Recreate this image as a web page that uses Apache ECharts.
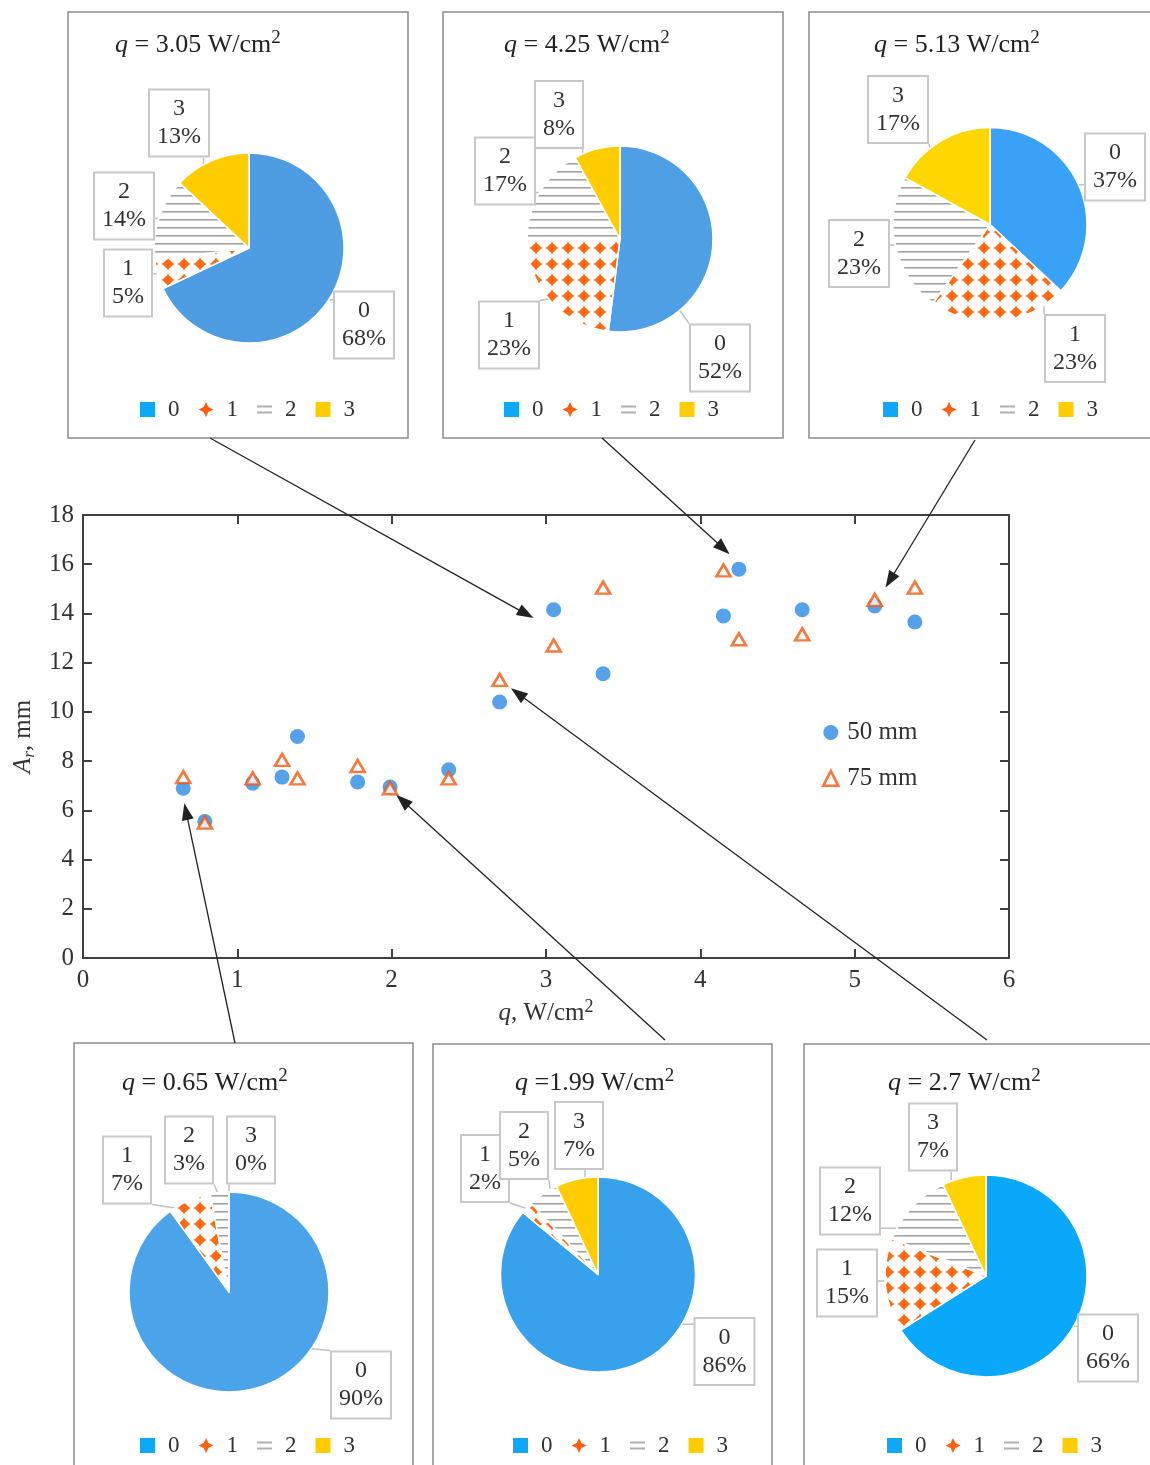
<!DOCTYPE html>
<html>
<head>
<meta charset="utf-8">
<script src="https://cdn.jsdelivr.net/npm/echarts@6/dist/echarts.min.js"></script>
<style>
  html, body { margin: 0; padding: 0; background: #fff; }
  #main { width: 1150px; height: 1465px; }
</style>
</head>
<body>
<div id="main"></div>
<script>
// main plot: q, W/cm2 -> A_r, mm
var q50  = [0.65, 0.79, 1.10, 1.29, 1.39, 1.78, 1.99, 2.37, 2.70, 3.05, 3.37, 4.15, 4.25, 4.66, 5.13, 5.39];
var ar50 = [6.9, 5.55, 7.1, 7.35, 9.0, 7.15, 6.95, 7.65, 10.4, 14.15, 11.55, 13.9, 15.8, 14.15, 14.3, 13.65];
var q75  = [0.65, 0.79, 1.10, 1.29, 1.39, 1.78, 1.99, 2.37, 2.70, 3.05, 3.37, 4.15, 4.25, 4.66, 5.13, 5.39];
var ar75 = [7.35, 5.5, 7.3, 8.05, 7.3, 7.8, 6.9, 7.3, 11.3, 12.7, 15.05, 15.75, 12.95, 13.15, 14.55, 15.05];
var xTicks = [0, 1, 2, 3, 4, 5, 6];
var yTicks = [0, 2, 4, 6, 8, 10, 12, 14, 16, 18];

// pies (share of regimes 0..3, %)
var pieNames = ['0', '1', '2', '3'];
var pieQ = [' = 3.05', ' = 4.25', ' = 5.13', ' = 0.65', ' =1.99', ' = 2.7'];
var pie305 = [68, 5, 14, 13];
var pie425 = [52, 23, 17, 8];
var pie513 = [37, 23, 23, 17];
var pie065 = [90, 7, 3, 0];
var pie199 = [86, 2, 5, 7];
var pie270 = [66, 15, 12, 7];
var pieValues = [pie305, pie425, pie513, pie065, pie199, pie270];

// annotation arrows: start on panel edge (px), tip in data coords
var arrowFrom = [[210, 438], [602, 438], [975, 440], [235, 1043], [665, 1040], [987, 1040]];
var arrowTo = [[2.92, 13.81], [4.19, 16.41], [5.20, 15.05], [0.657, 6.29], [2.03, 6.63], [2.773, 10.96]];

var FONT = 'Liberation Serif';

// layout of the six inset panels
var panels = [
  {box: [68, 12, 340, 426], c: [249, 248], r: 95, blue: '#4e9de3', yel: '#ffcc00', tl: [115, 29], lg: [140, 397.5],
   lab: [[115, 77], [-121, 35], [-125, -42], [-70, -125]]},
  {box: [443, 12, 340, 426], c: [620, 239], r: 93, blue: '#4f9fe5', yel: '#ffcc00', tl: [504, 29], lg: [504, 397.5],
   lab: [[100, 119], [-111, 96], [-115, -68], [-61, -124.5]]},
  {box: [809, 12, 350, 426], c: [990, 224.5], r: 97, blue: '#39a1f6', yel: '#ffd700', tl: [874, 29], lg: [883, 397.5],
   lab: [[125, -57.5], [85, 124], [-131, 29], [-92, -115]]},
  {box: [74, 1043, 339, 430], c: [229, 1292], r: 100, blue: '#4ba4e9', yel: '#ffcc00', tl: [122, 1067], lg: [140, 1433.5],
   lab: [[132, 93], [-102, -122], [-40, -142], [22, -142]]},
  {box: [433, 1044, 339, 430], c: [598, 1274.5], r: 97.5, blue: '#37a1eb', yel: '#ffcc00', tl: [515, 1067], lg: [513, 1433.5],
   lab: [[126.5, 77], [-113, -106], [-74, -129], [-19, -139]]},
  {box: [804, 1044, 350, 430], c: [986, 1276], r: 101, blue: '#0aa8fb', yel: '#ffd300', tl: [888, 1067], lg: [887, 1433.5],
   lab: [[122, 72], [-139, 7], [-136, -75], [-53, -139]]}
];

//填充图案
function dotPattern() {
  var c = document.createElement('canvas');
  c.width = 16; c.height = 16;
  var g = c.getContext('2d');
  g.fillStyle = '#fff'; g.fillRect(0, 0, 16, 16);
  g.fillStyle = '#ff6a12';
  g.beginPath();
  g.moveTo(8, 1.5); g.lineTo(10.5, 5.5); g.lineTo(14.5, 8); g.lineTo(10.5, 10.5);
  g.lineTo(8, 14.5); g.lineTo(5.5, 10.5); g.lineTo(1.5, 8); g.lineTo(5.5, 5.5);
  g.closePath(); g.fill();
  g.beginPath(); g.arc(8, 8, 4, 0, Math.PI * 2); g.fill();
  return c;
}
function linePattern() {
  var c = document.createElement('canvas');
  c.width = 8; c.height = 8;
  var g = c.getContext('2d');
  g.fillStyle = '#fff'; g.fillRect(0, 0, 8, 8);
  g.fillStyle = '#a2a2a2'; g.fillRect(0, 3, 8, 1.6);
  return c;
}
var dots = {image: dotPattern(), repeat: 'repeat'};
var hlines = {image: linePattern(), repeat: 'repeat'};

// callout: box at fixed offset, pointer to the arc point facing the box
function makeLabelLayout(p, vals) {
  var total = vals.reduce(function (a, b) { return a + b; }, 0);
  return function (params) {
    var i = params.dataIndex;
    var before = 0;
    for (var k = 0; k < i; k++) before += vals[k];
    var a0 = before / total * Math.PI * 2, a1 = (before + vals[i]) / total * Math.PI * 2;
    var x = p.c[0] + p.lab[i][0], y = p.c[1] + p.lab[i][1];
    var ang = Math.atan2(p.lab[i][0], -p.lab[i][1]);
    if (ang < 0) ang += Math.PI * 2;
    var m = Math.min(0.08, (a1 - a0) / 2);
    if (ang < a0 + m || ang > a1 - m) {
      // take nearest end of the slice (with wrap-around)
      var d0 = Math.abs(ang - (a0 + m)), d1 = Math.abs(ang - (a1 - m));
      d0 = Math.min(d0, Math.PI * 2 - d0); d1 = Math.min(d1, Math.PI * 2 - d1);
      ang = d0 < d1 ? a0 + m : a1 - m;
    }
    var ex = p.c[0] + Math.sin(ang) * p.r * 0.98, ey = p.c[1] - Math.cos(ang) * p.r * 0.98;
    var w = params.labelRect.width, h = params.labelRect.height;
    var bx = Math.min(Math.max(ex, x - w / 2), x + w / 2);
    var by = Math.min(Math.max(ey, y - h / 2), y + h / 2);
    return {
      x: x, y: y, align: 'center', verticalAlign: 'middle',
      labelLinePoints: [[ex, ey], [(ex + bx) / 2, (ey + by) / 2], [bx, by]]
    };
  };
}

var chart = echarts.init(document.getElementById('main'));

var series = [
  {
    type: 'scatter', name: '50 mm', xAxisIndex: 0, yAxisIndex: 0,
    data: q50.map(function (x, i) { return [x, ar50[i]]; }),
    symbol: 'circle', symbolSize: 15, silent: true,
    itemStyle: {color: '#2a89e5'}
  },
  {
    type: 'scatter', name: '75 mm', xAxisIndex: 0, yAxisIndex: 0,
    data: q75.map(function (x, i) { return [x, ar75[i]]; }),
    symbol: 'triangle', symbolSize: [14, 12], silent: true,
    itemStyle: {color: '#fff', borderColor: '#f4580c', borderWidth: 2.6}
  }
];

var titles = [];
var legends = [];
panels.forEach(function (p, n) {
  var vals = pieValues[n];
  series.push({
    type: 'pie', center: p.c, radius: p.r, startAngle: 90, clockwise: true,
    silent: true, avoidLabelOverlap: false, animation: false,
    emphasis: {disabled: true},
    itemStyle: {borderColor: '#fff', borderWidth: 1.5},
    data: vals.map(function (v, i) {
      var col = [p.blue, dots, hlines, p.yel][i];
      return {name: pieNames[i], value: v, itemStyle: {color: col}};
    }),
    label: {
      show: true, position: 'outside', formatter: '{b}\n{c}%',
      fontFamily: FONT, fontSize: 24, lineHeight: 28, color: '#333',
      backgroundColor: '#fff', borderColor: '#c8c8c8', borderWidth: 2,
      padding: [5, 7, 4, 7]
    },
    labelLine: {show: true, lineStyle: {color: '#c0c0c0', width: 1.5}},
    labelLayout: makeLabelLayout(p, vals)
  });
  titles.push({
    text: '{i|q}' + pieQ[n] + ' W/cm{s|2}',
    left: p.tl[0], top: p.tl[1], padding: 0,
    textStyle: {
      fontFamily: FONT, fontSize: 26, fontWeight: 'normal', color: '#222', lineHeight: 32,
      rich: {
        i: {fontFamily: FONT, fontSize: 26, fontStyle: 'italic', color: '#222', lineHeight: 32},
        s: {fontFamily: FONT, fontSize: 19, color: '#222', verticalAlign: 'top', lineHeight: 19}
      }
    }
  });
  legends.push({
    left: p.lg[0], top: p.lg[1], padding: 0, orient: 'horizontal',
    itemWidth: 15, itemHeight: 15, itemGap: 19, selectedMode: false,
    textStyle: {fontFamily: FONT, fontSize: 23, color: '#333', lineHeight: 24, padding: [0, 0, 0, 8]},
    data: [
      {name: '0', icon: 'rect', itemStyle: {color: '#0ea8f8', borderWidth: 0}},
      {name: '1', icon: 'path://M10,0 L13.2,6.8 L20,10 L13.2,13.2 L10,20 L6.8,13.2 L0,10 L6.8,6.8 Z', itemStyle: {color: '#ff5f0f', borderWidth: 0}},
      {name: '2', icon: 'path://M0,0 L20,0 L20,2.5 L0,2.5 Z M0,8 L20,8 L20,10.5 L0,10.5 Z', itemStyle: {color: '#b0b0b0', borderWidth: 0}},
      {name: '3', icon: 'rect', itemStyle: {color: '#ffcc00', borderWidth: 0}}
    ]
  });
});

legends.push({
  left: 822, top: 718.5, padding: 0, orient: 'vertical',
  itemWidth: 15, itemHeight: 15, itemGap: 17.8, selectedMode: false,
  textStyle: {fontFamily: FONT, fontSize: 25, color: '#333', lineHeight: 28, padding: [0, 0, 0, 4]},
  data: [
    {name: '50 mm', icon: 'circle', itemStyle: {color: '#2a89e5', borderWidth: 0}},
    {name: '75 mm', icon: 'triangle', itemStyle: {color: '#fff', borderColor: '#f4580c', borderWidth: 2.6}}
  ]
});

var axisLine = {show: true, onZero: false, lineStyle: {color: '#404040', width: 2}};
var axisTick = {show: true, inside: true, length: 9, lineStyle: {color: '#404040', width: 2}};
var tickLabel = {fontFamily: FONT, fontSize: 25, color: '#333'};

chart.setOption({
  animation: false,
  backgroundColor: '#fff',
  title: titles,
  legend: legends,
  grid: {left: 81, top: 515, width: 928, height: 443},
  xAxis: [
    {
      type: 'value', position: 'bottom', min: xTicks[0], max: xTicks[xTicks.length - 1], interval: 1,
      axisLine: axisLine, axisTick: axisTick, splitLine: {show: false},
      axisLabel: Object.assign({margin: 10}, tickLabel),
      name: '{i|q}, W/cm{s|2}', nameLocation: 'middle', nameGap: 40,
      nameTextStyle: {
        fontFamily: FONT, fontSize: 25, color: '#333', lineHeight: 30,
        rich: {
          i: {fontFamily: FONT, fontSize: 25, fontStyle: 'italic', color: '#333', lineHeight: 30},
          s: {fontFamily: FONT, fontSize: 18, color: '#333', verticalAlign: 'top', lineHeight: 18}
        }
      }
    },
    {
      type: 'value', position: 'top', min: xTicks[0], max: xTicks[xTicks.length - 1], interval: 1,
      axisLine: axisLine, axisTick: axisTick, splitLine: {show: false}, axisLabel: {show: false}
    }
  ],
  yAxis: [
    {
      type: 'value', position: 'left', min: yTicks[0], max: yTicks[yTicks.length - 1], interval: 2,
      axisLine: axisLine, axisTick: axisTick, splitLine: {show: false},
      axisLabel: Object.assign({margin: 9}, tickLabel),
      name: '{i|A}{b|r}, mm', nameLocation: 'middle', nameGap: 44, nameRotate: 90,
      nameTextStyle: {
        fontFamily: FONT, fontSize: 25, color: '#333', lineHeight: 30,
        rich: {
          i: {fontFamily: FONT, fontSize: 25, fontStyle: 'italic', color: '#333', lineHeight: 30},
          b: {fontFamily: FONT, fontSize: 17, fontStyle: 'italic', color: '#333', verticalAlign: 'bottom', lineHeight: 17}
        }
      }
    },
    {
      type: 'value', position: 'right', min: yTicks[0], max: yTicks[yTicks.length - 1], interval: 2,
      axisLine: axisLine, axisTick: axisTick, splitLine: {show: false}, axisLabel: {show: false}
    }
  ],
  series: series
});

// 边框和箭头
var elements = panels.map(function (p) {
  return {
    type: 'rect', silent: true, z: 0,
    shape: {x: p.box[0], y: p.box[1], width: p.box[2], height: p.box[3]},
    style: {fill: 'none', stroke: '#8c8c8c', lineWidth: 1.5}
  };
});
arrowFrom.forEach(function (from, i) {
  var to = chart.convertToPixel({gridIndex: 0}, arrowTo[i]);
  var dx = to[0] - from[0], dy = to[1] - from[1];
  var len = Math.sqrt(dx * dx + dy * dy), ux = dx / len, uy = dy / len;
  var hl = 17, hw = 6;
  var bx = to[0] - ux * hl, by = to[1] - uy * hl;
  elements.push({
    type: 'line', silent: true, z: 100,
    shape: {x1: from[0], y1: from[1], x2: bx + ux * 2, y2: by + uy * 2},
    style: {stroke: '#222', lineWidth: 1.3}
  });
  elements.push({
    type: 'polygon', silent: true, z: 100,
    shape: {points: [to, [bx - uy * hw, by + ux * hw], [bx + uy * hw, by - ux * hw]]},
    style: {fill: '#222'}
  });
});
chart.setOption({graphic: {elements: elements}});
</script>
</body>
</html>
